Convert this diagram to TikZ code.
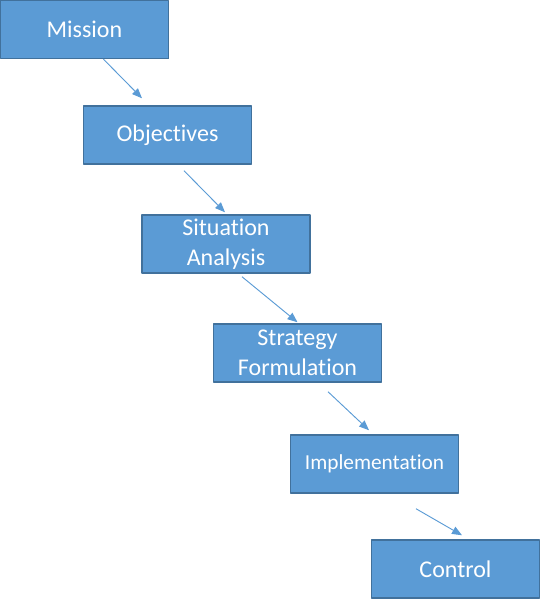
\documentclass[tikz,border=0pt]{standalone}
\usepackage{fontspec}
\setmainfont{Carlito}[Ligatures=NoCommon]
\usetikzlibrary{arrows.meta,calc}
\definecolor{boxfill}{HTML}{5B9BD5}
\definecolor{boxline}{HTML}{41719C}
\tikzset{
	stage/.style={draw=boxline,fill=boxfill,line width=1.1pt,text=white,align=center,
		minimum width={168*0.75pt},minimum height={58*0.75pt},inner sep=0pt,
		font=\fontsize{18}{22.5}\selectfont},
	flow/.style={draw=boxfill,line width=0.7pt,-{Triangle[length=7.5pt,width=6pt]}}
}
\begin{document}
\begin{tikzpicture}[x=0.75pt,y=-0.75pt,line join=round]
			\useasboundingbox (0,0) rectangle (541,600);
			\node[stage] (mission) at (84.5,29.5) {Mission};
			\node[stage] (objectives) at (167.5,135) {Objectives};
			\node[stage] (situation) at (226,244) {Situation\\Analysis};
			\node[stage] (strategy) at (297.5,353) {Strategy\\Formulation};
			\node[stage,font=\fontsize{16}{20}\selectfont] (implementation) at (374.5,464) {Implementation};
			\node[stage] (control) at (455.5,569) {Control};
			\draw[flow] ($(mission.south)+(19,0)$)--($(objectives.north)+(-25.5,-7)$);
			\draw[flow] ($(objectives.south)+(16.5,6)$)--($(situation.north)+(-1,-2)$);
			\draw[flow] ($(situation.south)+(16,3)$)--($(strategy.north)+(0,-1)$);
			\draw[flow] ($(strategy.south)+(30.5,9)$)--($(implementation.north)+(-5.5,-4)$);
			\draw[flow] ($(implementation.south)+(41.5,15)$)--($(control.north)+(6.5,-4)$);
		\end{tikzpicture}
\end{document}
